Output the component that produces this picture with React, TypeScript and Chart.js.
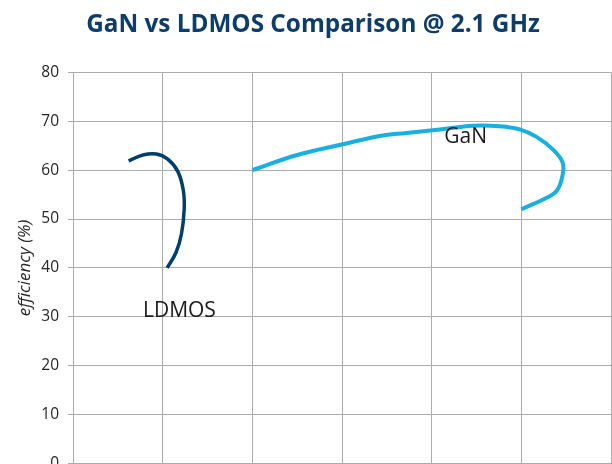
import React, { useEffect, useRef } from "react";
import { Chart, registerables } from "chart.js";

Chart.register(...registerables);

const chartTitle = "GaN vs LDMOS Comparison @ 2.1 GHz";
const yAxisTitle = "efficiency (%)";

const yTicksMin = 0;
const yTicksMax = 80;
const yStep = 10;
const xMin = 0;
const xMax = 60;
const xStep = 10;

const ldmosX = [6.2, 7.8, 9.3, 10.6, 11.7, 12.3, 12.4, 12.1, 11.5, 10.5];
const ldmosY = [61.9, 63.1, 63.3, 62.2, 59.7, 55.9, 52.0, 47.0, 43.2, 40.0];

const ganX = [20, 25.0, 30.1, 34.2, 37.2, 40.9, 44.6, 47.6, 49.9, 51.7, 53.6, 54.6, 54.6, 54.0, 53.0, 50.0];
const ganY = [60, 63.1, 65.3, 67.0, 67.6, 68.3, 69.1, 69.0, 68.3, 66.8, 64.1, 61.6, 59.0, 55.9, 54.5, 52.0];

const seriesNames = ["LDMOS", "GaN"];
const labelX = [7.8, 41.4];
const labelY = [30, 65.5];

const toPoints = (xs: number[], ys: number[]) => xs.map((x, i) => ({ x, y: ys[i] }));

const labelPlugin = {
  id: "seriesLabels",
  afterDatasetsDraw(chart: any) {
    const { ctx, scales } = chart;
    ctx.save();
    ctx.font = "21px 'Open Sans'";
    ctx.fillStyle = "#1a1a1a";
    ctx.textAlign = "left";
    ctx.textBaseline = "alphabetic";
    seriesNames.forEach((name, i) => {
      ctx.fillText(name, scales.x.getPixelForValue(labelX[i]), scales.y.getPixelForValue(labelY[i]));
    });
    ctx.restore();
  },
};

export default function App() {
  const ref = useRef<HTMLCanvasElement | null>(null);
  useEffect(() => {
    if (!ref.current) return;
    const chart = new Chart(ref.current, {
      type: "scatter",
      data: {
        datasets: [
          {
            label: seriesNames[0],
            data: toPoints(ldmosX, ldmosY),
            showLine: true,
            borderColor: "#003e6e",
            borderWidth: 3.5,
            pointRadius: 0,
            tension: 0.4,
            fill: false,
          },
          {
            label: seriesNames[1],
            data: toPoints(ganX, ganY),
            showLine: true,
            borderColor: "#19afe0",
            borderWidth: 4,
            pointRadius: 0,
            tension: 0.4,
            fill: false,
          },
        ],
      },
      options: {
        responsive: false,
        animation: false,
        devicePixelRatio: 1,
        layout: { padding: { left: 15, right: 15, top: 0, bottom: 56.5 } },
        plugins: {
          legend: { display: false },
          tooltip: { enabled: false },
          title: {
            display: true,
            text: chartTitle,
            color: "#0f3d6a",
            font: { family: "'Open Sans'", size: 24.3, weight: "bold" },
            padding: { top: 10, bottom: 33.2 },
          },
        },
        scales: {
          x: {
            type: "linear",
            min: xMin,
            max: xMax,
            ticks: { display: false, stepSize: xStep },
            grid: { color: "#ababab", lineWidth: 1, drawTicks: false },
            border: { display: false },
          },
          y: {
            type: "linear",
            min: yTicksMin,
            max: yTicksMax,
            ticks: {
              stepSize: yStep,
              padding: 9,
              color: "#262626",
              font: { family: "'Open Sans'", size: 15.5 },
            },
            grid: { color: "#ababab", lineWidth: 1, tickLength: 5 },
            border: { display: true, color: "#ababab" },
            title: {
              display: true,
              text: yAxisTitle,
              color: "#262626",
              font: { family: "'Open Sans'", size: 17, style: "italic" },
              padding: { top: 0, bottom: 0 },
            },
            afterFit: (s: any) => {
              s.width = 58;
            },
          },
        },
      },
      plugins: [labelPlugin],
    });
    return () => chart.destroy();
  }, []);
  return (
    <div style={{ position: "fixed", left: 0, top: 0, width: 612, height: 464, overflow: "hidden", background: "#fff" }}>
      <canvas ref={ref} width={626} height={520} style={{ display: "block", width: 626, height: 520 }} />
    </div>
  );
}
